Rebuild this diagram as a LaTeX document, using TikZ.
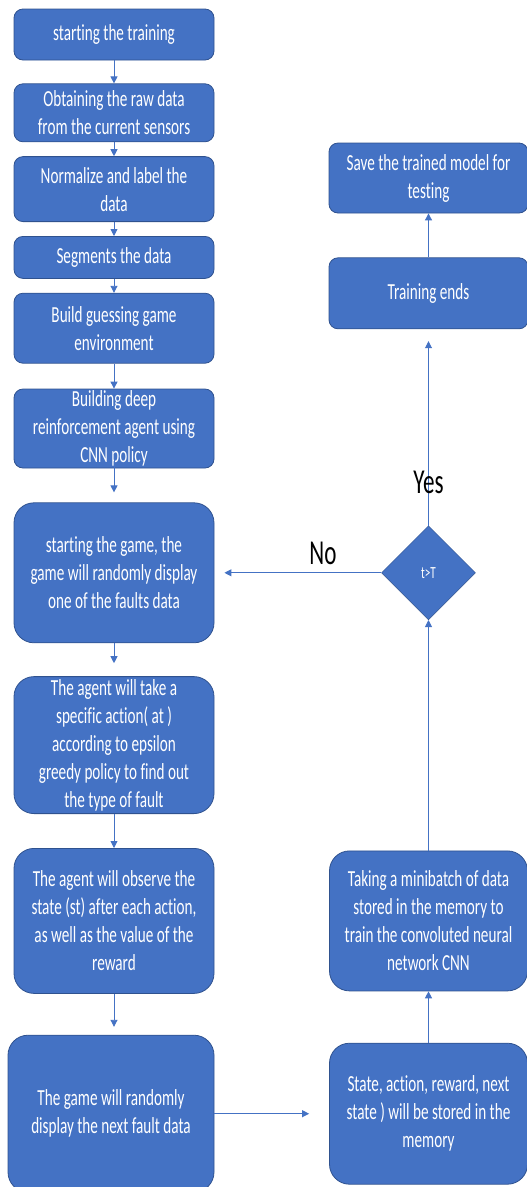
\documentclass[tikz,border=0pt]{standalone}
\usepackage{fontspec}
\setmainfont{Carlito}[FakeStretch=0.66, Ligatures=NoCommon]
\usetikzlibrary{shapes.geometric, arrows.meta, positioning}
\definecolor{flowblue}{HTML}{4472C4}
\definecolor{flowedge}{HTML}{2F528F}
\tikzset{
    flow/.style={font=\fontsize{23}{28}\selectfont},
    flow box/.style={rounded corners=9pt, draw=flowedge, fill=flowblue, text=white,
        align=center, inner sep=0pt, line width=0.8pt, minimum width=200pt},
    flow big box/.style={flow box, rounded corners=20pt},
    flow decision/.style={diamond, aspect=1, draw=flowedge, fill=flowblue, text=white,
        inner sep=0pt, minimum width=94pt, minimum height=94pt,
        font=\fontsize{17}{20}\selectfont},
    flow arrow/.style={-{Triangle[length=7pt,width=7pt]}, draw=flowblue, line width=0.9pt},
    flow label/.style={font=\fontsize{35}{40}\selectfont, text=black, inner sep=0pt},
}

\begin{document}
\begin{tikzpicture}[flow]
  \useasboundingbox (0,0) rectangle (527pt,-1187pt);
  % left column
  \node[flow box, minimum height=51pt] (start) at (114pt,-34.5pt) {starting the training};
  \node[flow box, minimum height=58pt, below=23pt of start] (raw) {Obtaining the raw data\\ from the current sensors};
  \node[flow box, minimum height=65pt, below=14pt of raw] (norm) {Normalize and label the\\ data};
  \node[flow box, minimum height=42pt, below=14pt of norm] (segm) {Segments the data};
  \node[flow box, minimum height=70pt, below=14pt of segm] (env) {Build guessing game\\ environment};
  \node[flow box, minimum height=79pt, below=25pt of env] (agent) {Building deep\\ reinforcement agent using\\ CNN policy};
  \node[flow big box, minimum height=140pt, below=34pt of agent] (game) {starting the game, the\\ game will randomly display\\ one of the faults data};
  \node[flow big box, minimum height=137pt, below=33pt of game] (action) {The agent will take a\\ specific action( at )\\ according to epsilon\\ greedy policy to find out\\ the type of fault};
  \node[flow big box, minimum height=145pt, below=34pt of action] (observe) {The agent will observe the\\ state (st) after each action,\\ as well as the value of the\\ reward};
  \node[flow big box, minimum width=206pt, minimum height=157pt, below=41pt of observe, xshift=-3pt] (next) {The game will randomly\\ display the next fault data};
  % right column
  \node[flow box, minimum width=199pt, minimum height=70pt] (save) at (428.5pt,-178pt) {Save the trained model for\\ testing};
  \node[flow box, minimum width=199pt, minimum height=71pt, below=44pt of save] (trainend) {Training ends};
  \node[flow decision] (dec) at (save |- game) {t>T};
  \node[flow big box, minimum width=198pt, minimum height=140pt] (batch) at (save |- observe) {Taking a minibatch of data\\ stored in the memory to\\ train the convoluted neural\\ network CNN};
  \node[flow big box, minimum width=198pt, minimum height=141pt] (store) at (save |- next) {State, action, reward, next\\ state ) will be stored in the\\ memory};

  \draw[flow arrow] (start) -- (raw);
  \draw[flow arrow] (raw) -- (norm);
  \draw[flow arrow] (norm) -- (segm);
  \draw[flow arrow] (segm) -- (env);
  \draw[flow arrow] (env) -- (agent);
  \draw[flow arrow, shorten <=-11pt, shorten >=10pt] (agent) -- (game);
  \draw[flow arrow, shorten >=13pt] (game) -- (action);
  \draw[flow arrow] (action) -- (observe);
  \draw[flow arrow, shorten >=8pt] (observe.south) -- (observe.south |- next.north);
  \draw[flow arrow, shorten >=20pt] (next.east |- store) -- (store);
  \draw[flow arrow] (store) -- (batch);
  \draw[flow arrow] (batch) -- (dec);
  \draw[flow arrow, shorten >=12pt] (dec) -- node[flow label, pos=0.22] {Yes} (trainend);
  \draw[flow arrow, shorten >=10pt] (dec) -- node[flow label, pos=0.35, above=8pt] {No} (game);
  \draw[flow arrow] (trainend) -- (save);
\end{tikzpicture}
\end{document}
